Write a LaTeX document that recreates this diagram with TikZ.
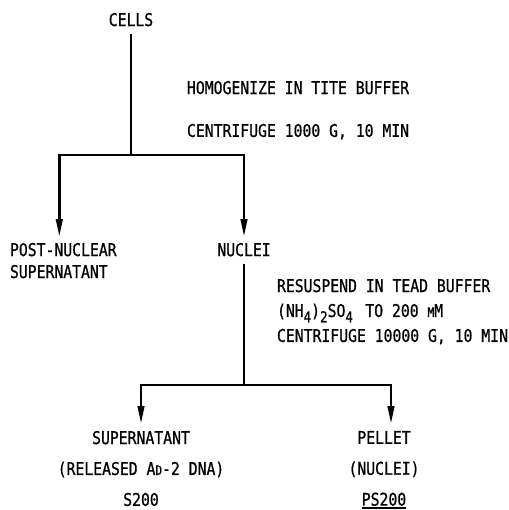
\documentclass[tikz,border=0pt]{standalone}
\usepackage{fontspec}
\newfontfamily\plotfont[FakeStretch=0.84, FakeBold=0.8]{DejaVu Sans Mono}
\usetikzlibrary{arrows.meta}
\newcommand{\lowsub}[1]{\raisebox{-0.55ex}{\fontsize{8.5}{8.5}\selectfont #1}}
\newcommand{\smallcap}[1]{{\fontsize{7.5}{7.5}\selectfont #1}}
\newcommand{\thickul}[1]{\setbox0\hbox{#1}\rlap{\rule[-1.7pt]{\wd0}{0.8pt}}\box0}

\begin{document}
\begin{tikzpicture}[
    x=0.02cm, y=-0.02cm,
    >={Triangle[length=0.36cm, width=0.13cm]},
    lbl/.style={font=\plotfont\fontsize{10}{#1}\selectfont, inner sep=0pt, outer sep=0pt},
    lbl/.default=12pt,
    link/.style={line width=1.5pt},
    arrow/.style={link, ->, shorten >=#1},
    arrow/.default=0.12cm
]
\useasboundingbox (0,0) rectangle (508,510);

% First spin
\node[lbl, anchor=north] (cells) at (131,13) {CELLS};
\node[lbl=24.4pt, align=left, anchor=north west] (homog) at (187,81) {
    HOMOGENIZE IN TITE BUFFER\\
    CENTRIFUGE 1000 G, 10 MIN
};
\coordinate (hub1) at (131,155);

\node[lbl=12.5pt, align=left, anchor=north west] (postnuc) at (10,243) {
    POST-NUCLEAR\\
    SUPERNATANT
};
\node[lbl, anchor=north] (nuclei) at (244,243) {NUCLEI};

\draw[link, shorten <=0.16cm] (cells) -- (hub1);
\draw[arrow] (hub1) -| ([xshift=-0.08cm]postnuc.north);
\draw[arrow] (hub1) -| (nuclei.north);

% Second spin
\node[lbl=14.2pt, align=left, anchor=north west] (resusp) at (277,279) {
    RESUSPEND IN TEAD BUFFER\\
    (NH\lowsub{4})\lowsub{2}SO\lowsub{4}\kern2pt\ TO 200 \smallcap{M}M\\
    CENTRIFUGE 10000 G, 10 MIN
};
\coordinate (hub2) at (244,385);

\node[lbl=17.6pt, align=center, anchor=north] (super) at (141,431) {
    SUPERNATANT\\
    (RELEASED A\smallcap{D}-2 DNA)\\
    S200
};
\node[lbl=17.6pt, align=center, anchor=north] (pellet) at (384,431) {
    PELLET\\
    (NUCLEI)\\
    \thickul{PS200}
};

\draw[link, shorten <=0.16cm] (nuclei) -- (hub2);
\draw[arrow=0.14cm] (hub2) -| (super.north);
\draw[arrow=0.14cm] (hub2) -| ([xshift=0.14cm]pellet.north);

\end{tikzpicture}
\end{document}
